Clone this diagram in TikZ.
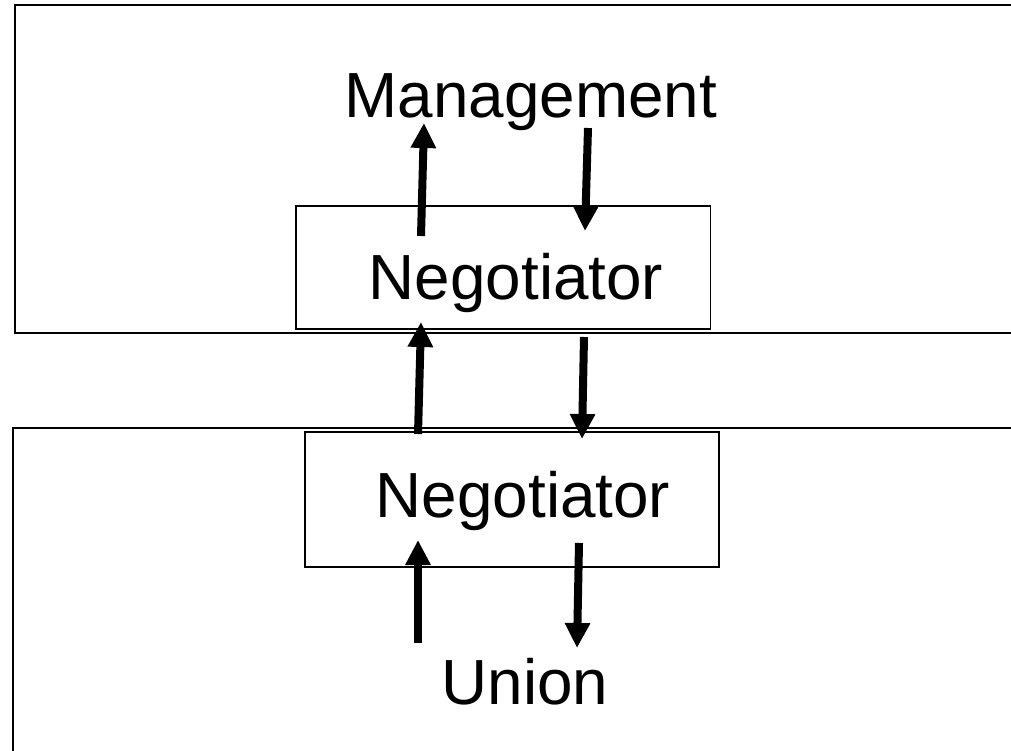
\documentclass[tikz,border=0pt]{standalone}
\usepackage{fontspec}
\setmainfont{Liberation Sans}
\usetikzlibrary{arrows.meta}

\tikzset{
  frame/.style={draw=black, line width=2pt},
  negbox/.style={draw=black, line width=1.4pt, fill=white},
  label/.style={font=\fontsize{63.8}{64}\selectfont, inner sep=0pt, anchor=base},
  flow/.style={line width=8pt,
    -{Triangle[length=25pt,width=24pt]}}
}

\begin{document}
\begin{tikzpicture}[x=1pt,y=-1pt]
  \useasboundingbox (0,0) rectangle (1011,751);
  \clip (0,0) rectangle (1011,751);

  % the two sides, running off the right and bottom edges
  \draw[frame] (15,5) rectangle (1040,333);
  \draw[frame] (12.5,428) rectangle (1040,790);

  % negotiator boxes
  \draw[negbox] (296,206) rectangle (710.5,329);
  \draw[negbox] (305,432) rectangle (719,567);

  % labels
  \node[label] (mgmt)  at (531,118) {Management};
  \node[label] (negA)  at (516,299) {Negotiator};
  \node[label] (negB)  at (523,517) {Negotiator};
  \node[label] (union) at (525,704) {Union};

  % arrow end points
  \coordinate (a1s) at (421,236); \coordinate (a1e) at (424,123);
  \coordinate (a2s) at (588,128); \coordinate (a2e) at (585,231);
  \coordinate (a3s) at (418,434); \coordinate (a3e) at (421,322);
  \coordinate (a4s) at (584,337); \coordinate (a4e) at (582,439);
  \coordinate (a5s) at (418,643); \coordinate (a5e) at (418,540);
  \coordinate (a6s) at (579,543); \coordinate (a6e) at (577,648);

  \draw[flow] (a1s) -- (a1e);
  \draw[flow] (a2s) -- (a2e);
  \draw[flow] (a3s) -- (a3e);
  \draw[flow] (a4s) -- (a4e);
  \draw[flow] (a5s) -- (a5e);
  \draw[flow] (a6s) -- (a6e);
\end{tikzpicture}
\end{document}
